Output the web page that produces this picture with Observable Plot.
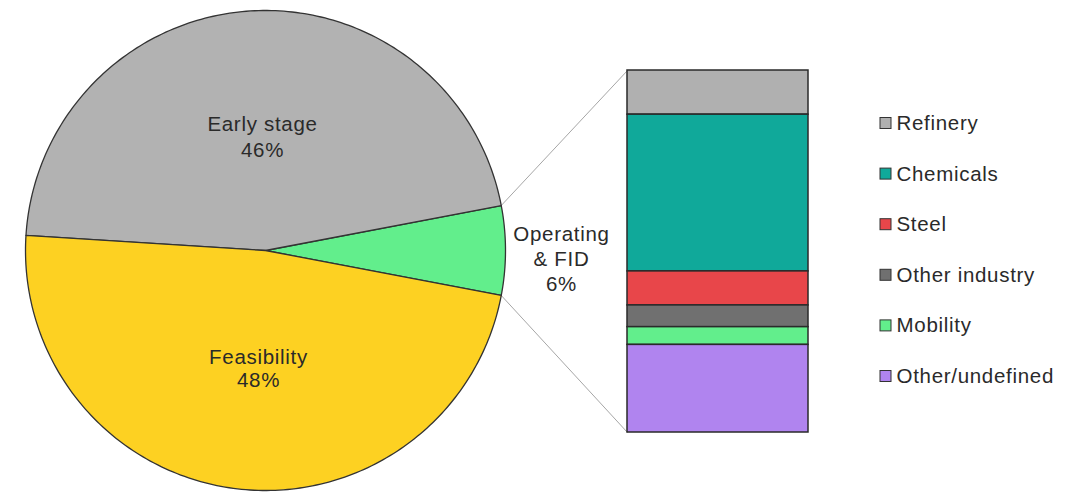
<!DOCTYPE html>
<html>
<head>
<meta charset="utf-8">
<script src="https://cdn.jsdelivr.net/npm/d3@7"></script>
<script src="https://cdn.jsdelivr.net/npm/@observablehq/plot@0.6"></script>
<style>
  html, body { margin: 0; padding: 0; background: #ffffff; }
  #chart svg { display: block; }
</style>
</head>
<body>
<div id="chart"></div>
<script>
// ---- data ----
const pieLabels = ["Operating\n& FID\n6%", "Early stage\n46%", "Feasibility\n48%"];
const pieNames = ["Operating & FID", "Early stage", "Feasibility"];
const pieShares = [6, 46, 48];
const pieColors = ["#62ee8c", "#b2b2b2", "#fdd122"];

const barCategories = ["Refinery", "Chemicals", "Steel", "Other industry", "Mobility", "Other/undefined"];
const barShares = [12.2, 43.3, 9.4, 6.0, 4.9, 24.2];
const barColors = ["#b0b0b0", "#10a99a", "#e8464a", "#707070", "#62ee8c", "#b084ef"];

// ---- layout (pixel coordinate system via identity-like scales) ----
const W = 1076, H = 493;
const cx = 265, cy = 250, R = 240;
const barX1 = 627, barX2 = 808, barTop = 70, barBottom = 432;
const legX = 880, legTop = 123, legStep = 50.6, legSize = 11;

// pie polygons
const total = d3.sum(pieShares);
let a0 = -pieShares[0] / total * 180; // green slice centered on the right
const piePts = [];
const sliceAngles = [];
pieShares.forEach((v, i) => {
  const a1 = a0 + v / total * 360;
  sliceAngles.push([a0, a1]);
  piePts.push({slice: i, x: cx, y: cy, fill: pieColors[i]});
  const n = Math.max(4, Math.ceil(a1 - a0));
  for (let k = 0; k <= n; k++) {
    const a = (a0 + (a1 - a0) * k / n) * Math.PI / 180;
    piePts.push({slice: i, x: cx + R * Math.cos(a), y: cy - R * Math.sin(a), fill: pieColors[i]});
  }
  a0 = a1;
});

// bar segments
const cum = d3.cumsum(barShares);
const barTotal = d3.sum(barShares);
const barSegs = barCategories.map((c, i) => ({
  name: c,
  fill: barColors[i],
  y1: barTop + (cum[i] - barShares[i]) / barTotal * (barBottom - barTop),
  y2: barTop + cum[i] / barTotal * (barBottom - barTop)
}));

// connectors from the edges of the operating slice to bar corners
const [g0, g1] = sliceAngles[0].map(a => a * Math.PI / 180);
const links = [
  {x1: cx + R * Math.cos(g1), y1: cy - R * Math.sin(g1), x2: barX1, y2: barTop},
  {x1: cx + R * Math.cos(g0), y1: cy - R * Math.sin(g0), x2: barX1, y2: barBottom}
];

// labels
const labelPos = [
  {text: pieLabels[1], x: 262, y: 135, lh: 1.25},
  {text: pieLabels[2], x: 258, y: 367.5, lh: 1.15},
  {text: pieLabels[0], x: 561, y: 257.5, lh: 1.225}
];

const legend = barCategories.map((c, i) => ({
  name: c, fill: barColors[i], y: legTop + i * legStep
}));

const font = "'Liberation Sans', Arial, sans-serif";

const chart = Plot.plot({
  width: W,
  height: H,
  margin: 0,
  x: {domain: [0, W], range: [0, W], axis: null},
  y: {domain: [0, H], range: [0, H], axis: null},
  style: {background: "#ffffff", fontFamily: font, overflow: "visible", letterSpacing: "0.7px"},
  marks: [
    Plot.link(links, {x1: "x1", y1: "y1", x2: "x2", y2: "y2", stroke: "#a6a6a6", strokeWidth: 1}),
    Plot.line(piePts, {
      x: "x", y: "y", z: "slice", fill: "fill", stroke: "#333333", strokeWidth: 1.3,
      curve: "linear-closed", strokeLinejoin: "round"
    }),
    Plot.rect(barSegs, {
      x1: barX1, x2: barX2, y1: "y1", y2: "y2", fill: "fill",
      stroke: "#2a2a2a", strokeWidth: 1.5
    }),
    ...labelPos.map(l => Plot.text([l], {
      x: "x", y: "y", text: "text", fontSize: 20.5, lineHeight: l.lh,
      fill: "#2a2a2a", textAnchor: "middle", lineAnchor: "middle"
    })),
    Plot.rect(legend, {
      x1: legX, x2: legX + legSize,
      y1: d => d.y - legSize / 2, y2: d => d.y + legSize / 2,
      fill: "fill", stroke: "#333333", strokeWidth: 1
    }),
    Plot.text(legend, {
      x: legX + legSize + 5, y: "y", text: "name", fontSize: 20.5,
      fill: "#2a2a2a", textAnchor: "start", lineAnchor: "middle"
    })
  ]
});

document.getElementById("chart").appendChild(chart);
</script>
</body>
</html>
